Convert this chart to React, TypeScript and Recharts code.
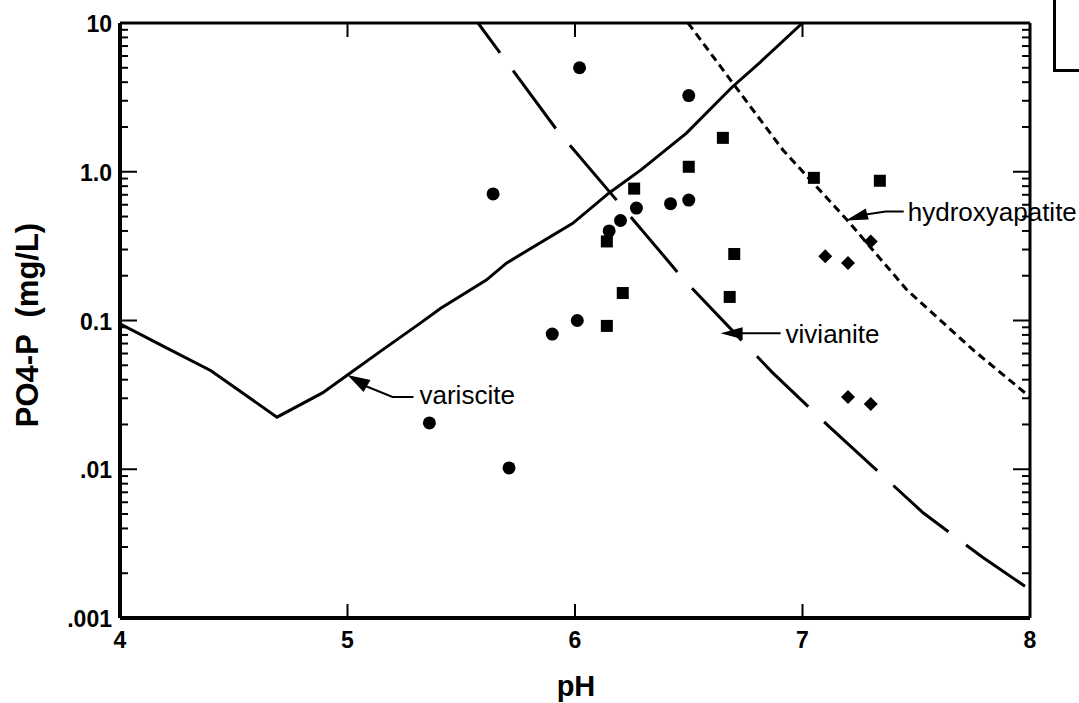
import React from 'react';
import { ComposedChart, XAxis, YAxis, Line, Scatter, ReferenceDot } from 'recharts';

// ---- data ----
const phTicks = [4, 5, 6, 7, 8];
const topTicks = [5, 6, 7];
const majorLogTicks = [0.001, 0.01, 0.1, 1, 10];
const majorLogLabels = ['.001', '.01', '0.1', '1.0', '10'];
const minorLogTicks = [
  0.002, 0.003, 0.004, 0.005, 0.006, 0.007, 0.008, 0.009,
  0.02, 0.03, 0.04, 0.05, 0.06, 0.07, 0.08, 0.09,
  0.2, 0.3, 0.4, 0.5, 0.6, 0.7, 0.8, 0.9,
  2, 3, 4, 5, 6, 7, 8, 9,
];
const allLogTicks = [...majorLogTicks, ...minorLogTicks];

const circles = [
  { ph: 6.02, p: 5.0 },
  { ph: 6.5, p: 3.25 },
  { ph: 5.64, p: 0.71 },
  { ph: 6.27, p: 0.57 },
  { ph: 6.2, p: 0.47 },
  { ph: 6.15, p: 0.4 },
  { ph: 6.42, p: 0.61 },
  { ph: 6.5, p: 0.645 },
  { ph: 5.9, p: 0.081 },
  { ph: 6.01, p: 0.1 },
  { ph: 5.36, p: 0.0205 },
  { ph: 5.71, p: 0.0102 },
];
const squares = [
  { ph: 6.65, p: 1.69 },
  { ph: 6.5, p: 1.08 },
  { ph: 6.26, p: 0.77 },
  { ph: 6.14, p: 0.34 },
  { ph: 6.21, p: 0.153 },
  { ph: 6.14, p: 0.092 },
  { ph: 6.7, p: 0.28 },
  { ph: 6.68, p: 0.144 },
  { ph: 7.05, p: 0.91 },
  { ph: 7.34, p: 0.87 },
];
const diamonds = [
  { ph: 7.3, p: 0.34 },
  { ph: 7.1, p: 0.27 },
  { ph: 7.2, p: 0.244 },
  { ph: 7.2, p: 0.0306 },
  { ph: 7.3, p: 0.0275 },
];
const variscite = [
  { ph: 4.0, p: 0.095 },
  { ph: 4.2, p: 0.066 },
  { ph: 4.4, p: 0.046 },
  { ph: 4.69, p: 0.0224 },
  { ph: 4.89, p: 0.0326 },
  { ph: 5.0, p: 0.043 },
  { ph: 5.14, p: 0.0613 },
  { ph: 5.32, p: 0.096 },
  { ph: 5.41, p: 0.121 },
  { ph: 5.61, p: 0.187 },
  { ph: 5.7, p: 0.244 },
  { ph: 5.99, p: 0.45 },
  { ph: 6.15, p: 0.72 },
  { ph: 6.29, p: 1.03 },
  { ph: 6.49, p: 1.82 },
  { ph: 6.69, p: 3.7 },
  { ph: 6.81, p: 5.38 },
  { ph: 7.0, p: 10 },
];
const vivianite = [
  { ph: 5.574, p: 10 },
  { ph: 5.736, p: 4.6 },
  { ph: 5.92, p: 1.91 },
  { ph: 6.2, p: 0.6 },
  { ph: 6.48, p: 0.187 },
  { ph: 6.866, p: 0.045 },
  { ph: 7.11, p: 0.0198 },
  { ph: 7.53, p: 0.0051 },
  { ph: 7.79, p: 0.00257 },
  { ph: 8.0, p: 0.00155 },
];
const hydroxyapatite = [
  { ph: 6.497, p: 10 },
  { ph: 6.7, p: 3.83 },
  { ph: 6.914, p: 1.4 },
  { ph: 7.196, p: 0.474 },
  { ph: 7.46, p: 0.16 },
  { ph: 7.75, p: 0.0634 },
  { ph: 8.0, p: 0.0306 },
];
const annotations = [
  { name: 'variscite', ph: 5.0, p: 0.043 },
  { name: 'vivianite', ph: 6.64, p: 0.082 },
  { name: 'hydroxyapatite', ph: 7.19, p: 0.47 },
];

// ---- layout ----
const W = 1079;
const H = 703;
const PLOT_LEFT = 120;
const PLOT_RIGHT = 1030;
const PLOT_TOP = 23;
const PLOT_BOTTOM = 618;
const FONT = 'Liberation Sans, Arial, Helvetica, sans-serif';

const LeftTick = (props: any) => {
  const { y, payload } = props;
  const idx = majorLogTicks.indexOf(payload.value);
  if (idx >= 0) {
    return (
      <g>
        <line x1={PLOT_LEFT} x2={PLOT_LEFT + 17} y1={y} y2={y} stroke="#000" strokeWidth={2} />
        <text x={PLOT_LEFT - 8} y={y + 9} textAnchor="end" fontFamily={FONT} fontWeight="bold" fontSize={23} fill="#000">
          {majorLogLabels[idx]}
        </text>
      </g>
    );
  }
  return <line x1={PLOT_LEFT} x2={PLOT_LEFT + 8} y1={y} y2={y} stroke="#000" strokeWidth={2} />;
};

const RightTick = (props: any) => {
  const { y, payload } = props;
  const major = majorLogTicks.indexOf(payload.value) >= 0;
  return <line x1={PLOT_RIGHT} x2={PLOT_RIGHT - (major ? 17 : 8)} y1={y} y2={y} stroke="#000" strokeWidth={2} />;
};

const BottomTick = (props: any) => {
  const { x, payload } = props;
  const inner = payload.value > 4 && payload.value < 8;
  return (
    <g>
      {inner && <line x1={x} x2={x} y1={PLOT_BOTTOM} y2={PLOT_BOTTOM - 14} stroke="#000" strokeWidth={2} />}
      <text x={x} y={PLOT_BOTTOM + 30} textAnchor="middle" fontFamily={FONT} fontWeight="bold" fontSize={23} fill="#000">
        {payload.value}
      </text>
    </g>
  );
};

const TopTick = (props: any) => {
  const { x } = props;
  return <line x1={x} x2={x} y1={PLOT_TOP} y2={PLOT_TOP + 14} stroke="#000" strokeWidth={2} />;
};

const CircleShape = (props: any) => <circle cx={props.cx} cy={props.cy} r={6.5} fill="#000" stroke="none" />;
const SquareShape = (props: any) => (
  <rect x={props.cx - 6} y={props.cy - 6} width={12} height={12} fill="#000" stroke="none" />
);
const DiamondShape = (props: any) => (
  <polygon
    points={`${props.cx},${props.cy - 7} ${props.cx + 7},${props.cy} ${props.cx},${props.cy + 7} ${props.cx - 7},${props.cy}`}
    fill="#000"
    stroke="none"
  />
);

const annotationShape = (name: string) => (props: any) => {
  const { cx, cy } = props;
  const txt = (x: number, y: number) => (
    <text x={x} y={y + 9} fontFamily={FONT} fontSize={26} fill="#000">{name}</text>
  );
  if (name === 'variscite') {
    return (
      <g>
        <polygon points={`${cx},${cy} ${cx + 23},${cy + 5} ${cx + 16},${cy + 17}`} fill="#000" />
        <polyline points={`${cx + 18},${cy + 11} ${cx + 45},${cy + 22} ${cx + 66},${cy + 22}`} fill="none" stroke="#000" strokeWidth={2} />
        {txt(cx + 72, cy + 20)}
      </g>
    );
  }
  if (name === 'vivianite') {
    return (
      <g>
        <polygon points={`${cx},${cy} ${cx + 22},${cy - 6} ${cx + 22},${cy + 6}`} fill="#000" />
        <line x1={cx + 20} x2={cx + 60} y1={cy} y2={cy} stroke="#000" strokeWidth={2} />
        {txt(cx + 65, cy + 1)}
      </g>
    );
  }
  return (
    <g>
      <polygon points={`${cx},${cy} ${cx + 20},${cy - 12} ${cx + 23},${cy - 1}`} fill="#000" />
      <polyline points={`${cx + 20},${cy - 6} ${cx + 40},${cy - 9} ${cx + 58},${cy - 9}`} fill="none" stroke="#000" strokeWidth={2} />
      {txt(cx + 62, cy - 9)}
    </g>
  );
};

export default function App() {
  return (
    <div style={{ position: 'absolute', left: 0, top: 0, width: W, height: H, background: '#fff' }}>
      <ComposedChart width={W} height={H} margin={{ top: 0, right: 0, bottom: 0, left: 0 }}>
        <XAxis
          xAxisId="bottom"
          dataKey="ph"
          type="number"
          domain={[4, 8]}
          ticks={phTicks}
          interval={0}
          height={H - PLOT_BOTTOM}
          axisLine={{ stroke: '#000', strokeWidth: 4 }}
          tickLine={false}
          tick={BottomTick}
          allowDataOverflow
          label={{
            content: () => (
              <text x={576} y={696} textAnchor="middle" fontFamily={FONT} fontWeight="bold" fontSize={29} fill="#000">pH</text>
            ),
          }}
        />
        <XAxis
          xAxisId="top"
          orientation="top"
          dataKey="ph"
          type="number"
          domain={[4, 8]}
          ticks={topTicks}
          interval={0}
          height={PLOT_TOP}
          axisLine={{ stroke: '#000', strokeWidth: 3 }}
          tickLine={false}
          tick={TopTick}
          allowDataOverflow
        />
        <YAxis
          yAxisId="left"
          dataKey="p"
          type="number"
          scale="log"
          domain={[0.001, 10]}
          ticks={allLogTicks}
          interval={0}
          width={PLOT_LEFT}
          axisLine={{ stroke: '#000', strokeWidth: 4 }}
          tickLine={false}
          tick={LeftTick}
          allowDataOverflow
          label={{
            content: () => (
              <text x={38} y={325} transform="rotate(-90 38 325)" textAnchor="middle" fontFamily={FONT} fontWeight="bold" fontSize={31} fill="#000" style={{ whiteSpace: 'pre' }}>
                PO4-P  (mg/L)
              </text>
            ),
          }}
        />
        <YAxis
          yAxisId="right"
          orientation="right"
          dataKey="p"
          type="number"
          scale="log"
          domain={[0.001, 10]}
          ticks={allLogTicks}
          interval={0}
          width={W - PLOT_RIGHT}
          axisLine={{ stroke: '#000', strokeWidth: 3 }}
          tickLine={false}
          tick={RightTick}
          allowDataOverflow
        />
        <Line
          xAxisId="bottom"
          yAxisId="left"
          data={variscite}
          dataKey="p"
          type="linear"
          stroke="#000"
          strokeWidth={3}
          dot={false}
          isAnimationActive={false}
        />
        <Line
          xAxisId="bottom"
          yAxisId="left"
          data={vivianite}
          dataKey="p"
          type="linear"
          stroke="#000"
          strokeWidth={3}
          strokeDasharray="72 22"
          strokeDashoffset={35}
          dot={false}
          isAnimationActive={false}
        />
        <Line
          xAxisId="top"
          yAxisId="right"
          data={hydroxyapatite}
          dataKey="p"
          type="linear"
          stroke="#000"
          strokeWidth={3}
          strokeDasharray="8 5"
          dot={false}
          isAnimationActive={false}
        />
        <Scatter xAxisId="bottom" yAxisId="left" data={circles} dataKey="p" shape={CircleShape} isAnimationActive={false} />
        <Scatter xAxisId="bottom" yAxisId="left" data={squares} dataKey="p" shape={SquareShape} isAnimationActive={false} />
        <Scatter xAxisId="bottom" yAxisId="left" data={diamonds} dataKey="p" shape={DiamondShape} isAnimationActive={false} />
        {annotations.map((a) => (
          <ReferenceDot
            key={a.name}
            xAxisId="bottom"
            yAxisId="left"
            x={a.ph}
            y={a.p}
            r={0}
            shape={annotationShape(a.name)}
            ifOverflow="visible"
          />
        ))}
      </ComposedChart>
      <div
        style={{
          position: 'absolute',
          left: 1053,
          top: -3,
          width: 30,
          height: 72,
          borderLeft: '3px solid #000',
          borderBottom: '3px solid #000',
        }}
      />
    </div>
  );
}
